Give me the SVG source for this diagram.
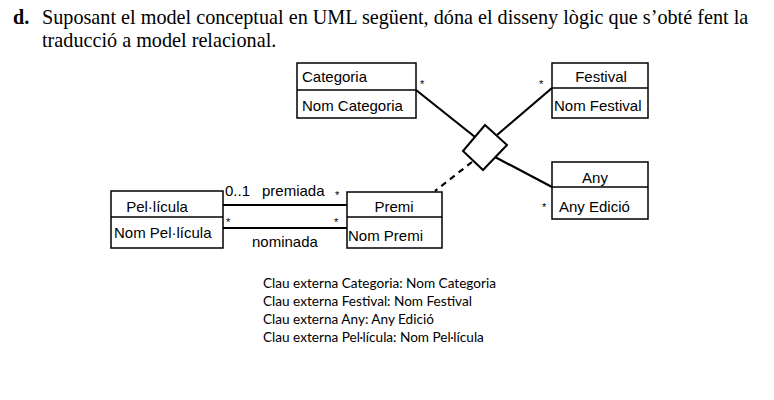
<svg xmlns="http://www.w3.org/2000/svg" width="774" height="400" viewBox="0 0 774 400">
<style>
.box{fill:#fff;stroke:#000;stroke-width:1.5}
.div{stroke:#000;stroke-width:1.5}
.t{font-family:"Liberation Sans",Arial,sans-serif;font-size:15px;fill:#000}
.m{font-family:"Liberation Sans",Arial,sans-serif;font-size:11px;fill:#000}
.title{font-family:"Liberation Serif","Times New Roman",serif;font-size:20.2px;fill:#000}
.note{font-family:Lato,"Open Sans",sans-serif;font-size:13.6px;fill:#000}
.ln{stroke:#000;stroke-width:2.2;fill:none}
</style>
<rect width="774" height="400" fill="#fff"/>
<g id="title">
<text class="title" x="13" y="24" font-weight="bold">d.</text>
<text class="title" x="42" y="24">Suposant el model conceptual en UML següent, dóna el disseny lògic que s’obté fent la</text>
<text class="title" x="42" y="47">traducció a model relacional.</text>
</g>
<g id="connectors">
<line class="ln" x1="416" y1="90" x2="475" y2="137"/>
<line class="ln" x1="552" y1="88" x2="497" y2="135"/>
<line class="ln" x1="552" y1="187" x2="495" y2="157"/>
<line class="ln" x1="472" y1="162" x2="435" y2="191" stroke-dasharray="6,5" stroke-width="1.8"/>
<polygon points="485,125 507,145 483,170 463,151" fill="#fff" stroke="#000" stroke-width="2"/>
<line class="ln" x1="223" y1="205" x2="347" y2="205"/>
<line class="ln" x1="223" y1="228" x2="347" y2="228"/>
<text class="t" x="225" y="196">0..1</text>
<text class="t" x="262" y="196">premiada</text>
<text class="t" x="252" y="247">nominada</text>
<text class="m" x="335" y="199">*</text>
<text class="m" x="226" y="226">*</text>
<text class="m" x="334" y="226">*</text>
<text class="m" x="420" y="88">*</text>
<text class="m" x="539" y="88">*</text>
<text class="m" x="542" y="211">*</text>
</g>
<g id="categoria">
<rect class="box" x="297" y="63" width="119" height="55"/>
<line class="div" x1="297" y1="90" x2="416" y2="90"/>
<text class="t" x="302" y="82">Categoria</text>
<text class="t" x="302" y="111">Nom Categoria</text>
</g>
<g id="festival">
<rect class="box" x="552" y="63" width="96" height="55"/>
<line class="div" x1="552" y1="88" x2="648" y2="88"/>
<text class="t" x="601" y="82" text-anchor="middle">Festival</text>
<text class="t" x="554" y="111">Nom Festival</text>
</g>
<g id="any">
<rect class="box" x="552" y="162" width="96" height="57"/>
<line class="div" x1="552" y1="187" x2="648" y2="187"/>
<text class="t" x="595" y="183" text-anchor="middle">Any</text>
<text class="t" x="559" y="212">Any Edició</text>
</g>
<g id="pellicula">
<rect class="box" x="111" y="191" width="112" height="57"/>
<line class="div" x1="111" y1="217" x2="223" y2="217"/>
<text class="t" x="157" y="212" text-anchor="middle">Pel·lícula</text>
<text class="t" x="114" y="238">Nom Pel·lícula</text>
</g>
<g id="premi">
<rect class="box" x="347" y="192" width="95" height="56"/>
<line class="div" x1="347" y1="217" x2="442" y2="217"/>
<text class="t" x="394" y="212" text-anchor="middle">Premi</text>
<text class="t" x="348" y="241">Nom Premi</text>
</g>
<g id="notes">
<text class="note" x="263" y="288">Clau externa Categoria: Nom Categoria</text>
<text class="note" x="263" y="306">Clau externa Festival: Nom Festival</text>
<text class="note" x="263" y="324">Clau externa Any: Any Edició</text>
<text class="note" x="263" y="342">Clau externa Pel·lícula: Nom  Pel·lícula</text>
</g>
</svg>
